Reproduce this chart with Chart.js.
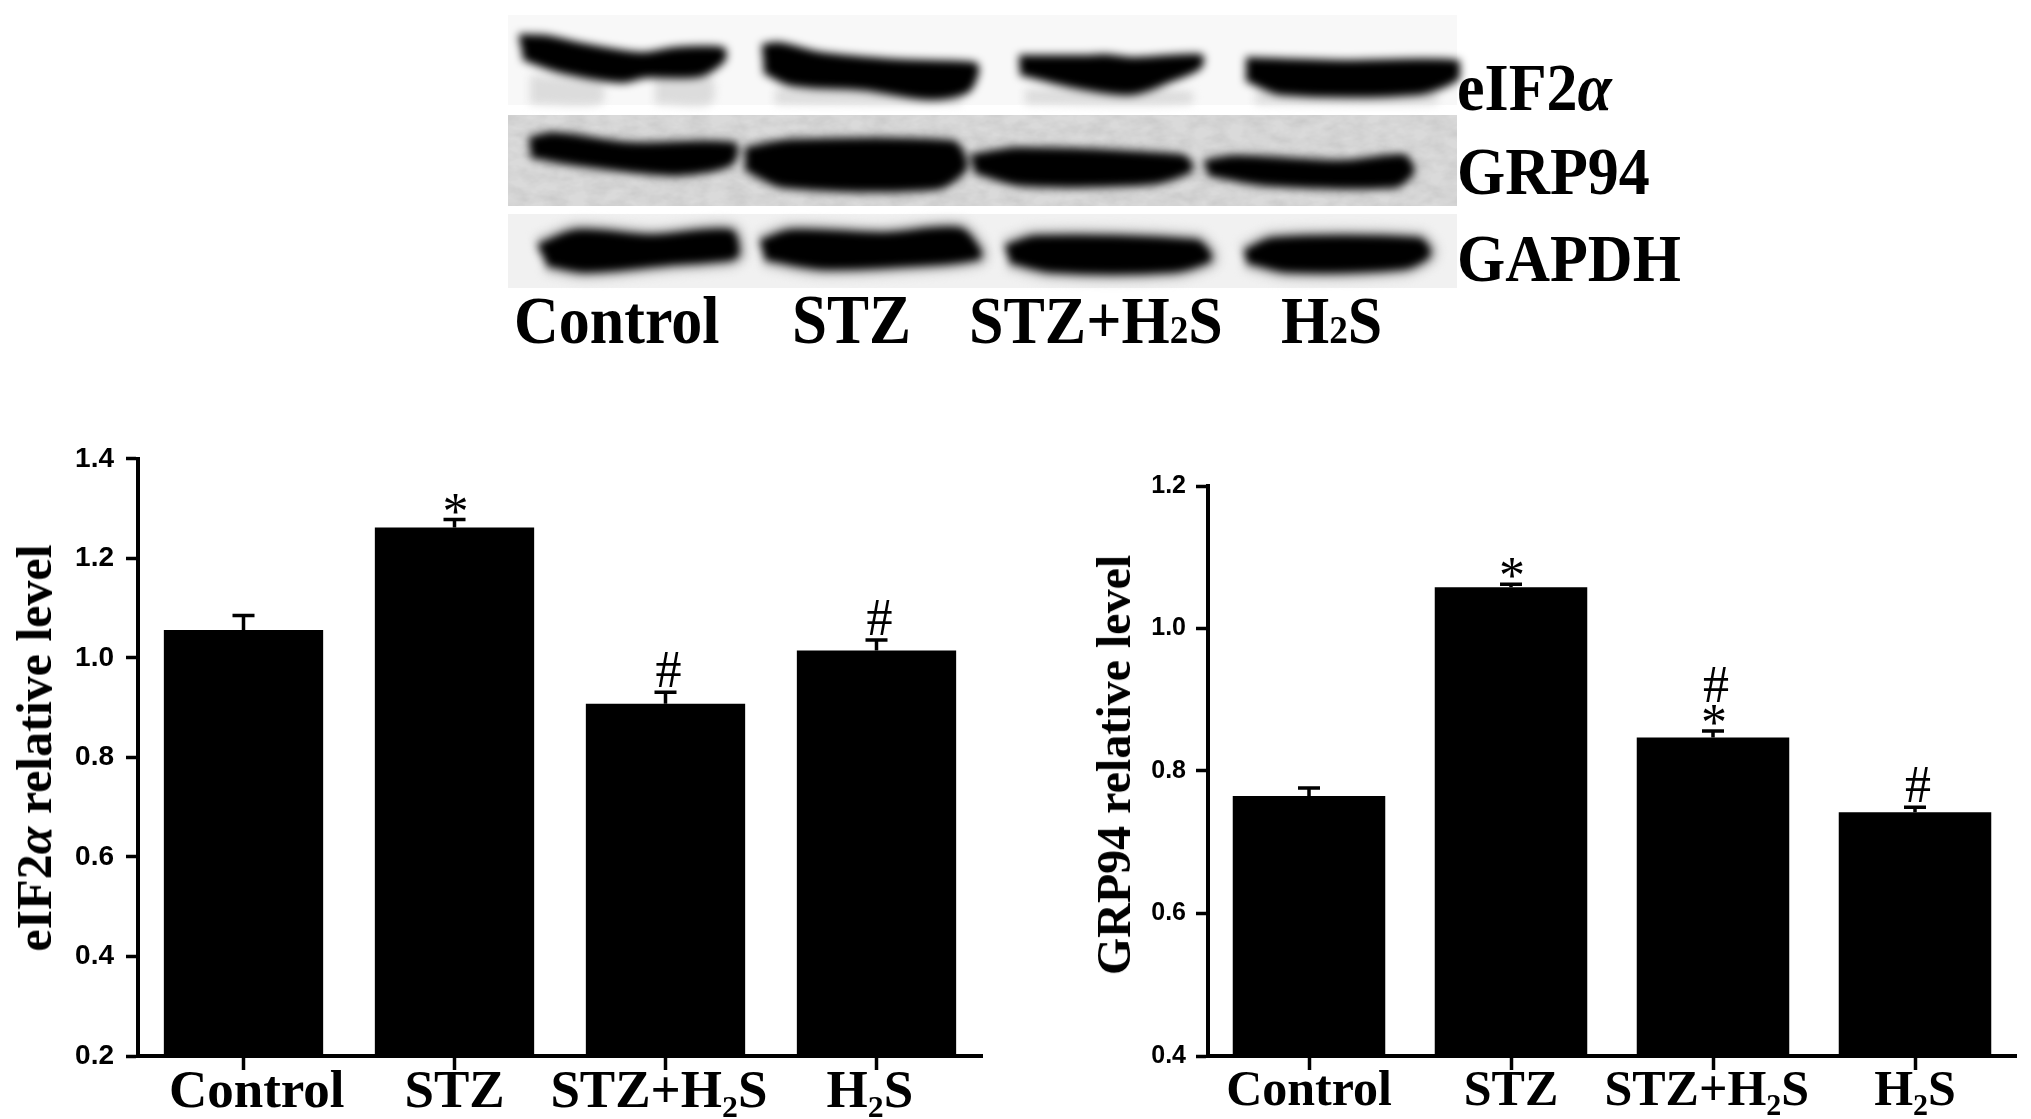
<!DOCTYPE html>
<html>
<head>
<meta charset="utf-8">
<title>eIF2α and GRP94</title>
<script src="https://cdn.jsdelivr.net/npm/chart.js@4"></script>
<style>
    html, body { margin: 0; background: #fff; }
    body { position: relative; width: 2031px; height: 1119px; overflow: hidden; font-family: "Liberation Serif", serif; font-weight: bold; color: #000; }
    #page { position: absolute; left: 0; top: 0; width: 2031px; height: 1119px; filter: blur(0.6px); }
    canvas { position: absolute; }
    .panel { position: absolute; left: 508px; width: 949px; }
    .label { position: absolute; white-space: nowrap; line-height: 1; transform: translateY(-50%) scaleY(1.1); }
    .label span { font-size: 0.6em; }
    .ytitle { position: absolute; white-space: nowrap; line-height: 1; transform: translate(-50%, -50%) rotate(-90deg); }
</style>
</head>
<body>
<svg width="0" height="0" style="position:absolute">
    <filter id="grain" x="0" y="0" width="100%" height="100%">
        <feTurbulence type="fractalNoise" baseFrequency="0.05 0.09" numOctaves="3" seed="4"/>
        <feColorMatrix type="matrix" values="0 0 0 0 0.5  0 0 0 0 0.5  0 0 0 0 0.5  0.9 0 0 0 -0.27"/>
        <feComposite in2="SourceGraphic" operator="over"/>
    </filter>
</svg>
<div id="page">
<div class="panel" style="top:15px;height:90px;background:#f8f8f8"></div>
<div class="panel" style="top:115px;height:91px;background:#dadada;filter:url(#grain)"></div>
<div class="panel" style="top:214px;height:74px;background:#f1f1f1"></div>
<canvas id="blot" style="left:500px;top:0;filter:blur(4px)" width="960" height="300"></canvas>

<div class="label" style="left:1457px;top:87px;font-size:62px">eIF2<i>α</i></div>
<div class="label" style="left:1457px;top:171px;font-size:62px">GRP94</div>
<div class="label" style="left:1457px;top:258px;font-size:62px">GAPDH</div>
<div class="label" style="left:514px;top:320px;font-size:62px">Control</div>
<div class="label" style="left:792px;top:320px;font-size:63px">STZ</div>
<div class="label" style="left:969px;top:320px;font-size:62px">STZ+H<span>2</span>S</div>
<div class="label" style="left:1281px;top:320px;font-size:62px">H<span>2</span>S</div>

<canvas id="eif2aChart" style="left:0;top:430px" width="1000" height="689"></canvas>
<canvas id="grp94Chart" style="left:1080px;top:460px" width="951" height="659"></canvas>
<div class="ytitle" style="left:34px;top:748px;font-size:50px">eIF2<i>α</i> relative level</div>
<div class="ytitle" style="left:1114px;top:765px;font-size:48px">GRP94 relative level</div>
</div>

<script>
const categories = ['Control', 'STZ', 'STZ+H₂S', 'H₂S'];

const eif2aValues = [1.056, 1.262, 0.908, 1.015];
const eif2aErrors = [0.029, 0.016, 0.023, 0.021];
const eif2aMarks = [[], ['*'], ['#'], ['#']];

const grp94Values = [0.765, 1.058, 0.847, 0.742];
const grp94Errors = [0.011, 0.004, 0.009, 0.007];
const grp94Marks = [[], ['*'], ['*', '#'], ['#']];

// blot bands, outline of each band in blot units (x along the membrane, y down it)
const eif2aBands = [
    [[19, 37], [46, 38], [77, 45], [122, 53], [145, 55], [176, 50], [222, 50], [222, 60], [199, 74], [145, 75], [122, 80], [61, 70], [23, 57]],
    [[262, 47], [279, 45], [321, 55], [398, 62], [474, 65], [476, 72], [467, 90], [429, 97], [367, 88], [291, 83], [264, 70]],
    [[519, 58], [589, 58], [605, 57], [635, 60], [700, 57], [698, 67], [673, 78], [631, 92], [574, 85], [520, 72]],
    [[746, 60], [842, 63], [957, 63], [957, 77], [918, 92], [781, 92], [746, 78]]
];
const eif2aSmudges = [
    [[30, 76], [100, 84], [100, 103], [30, 103]],
    [[155, 78], [210, 78], [210, 103], [155, 103]],
    [[275, 90], [460, 98], [460, 103], [275, 103]],
    [[525, 90], [690, 92], [690, 103], [525, 103]],
    [[755, 94], [935, 94], [935, 103], [755, 103]]
];
const grp94Bands = [
    [[29, 140], [54, 135], [130, 145], [233, 145], [230, 163], [176, 173], [77, 163], [31, 155]],
    [[245, 150], [291, 142], [452, 143], [463, 157], [463, 170], [436, 187], [283, 185], [245, 167]],
    [[471, 157], [520, 150], [681, 157], [689, 163], [689, 170], [650, 182], [520, 183], [474, 170]],
    [[704, 163], [735, 158], [842, 163], [903, 157], [911, 167], [911, 173], [895, 185], [765, 183], [708, 173]]
];
const gapdhBands = [
    [[38, 247], [77, 232], [153, 237], [230, 232], [237, 253], [230, 258], [168, 263], [84, 270], [46, 263]],
    [[260, 243], [291, 232], [383, 235], [459, 230], [478, 250], [478, 257], [429, 263], [321, 267], [264, 257]],
    [[505, 248], [536, 238], [696, 242], [708, 253], [708, 260], [673, 270], [551, 270], [509, 260]],
    [[744, 253], [773, 240], [918, 240], [928, 250], [926, 257], [903, 267], [788, 270], [746, 260]]
];

Chart.defaults.animation = false;
Chart.defaults.responsive = false;

function bandDataset(points, color, width) {
    return {
        data: points.map(p => ({x: p[0], y: p[1]})),
        showLine: true,
        fill: 'shape',
        tension: 0.3,
        borderColor: color,
        backgroundColor: color,
        borderWidth: width,
        pointRadius: 0
    };
}

new Chart(document.getElementById('blot'), {
    type: 'scatter',
    data: {
        // first dataset ends up on top
        datasets: [
            ...eif2aBands.map(p => bandDataset(p, '#000', 6)),
            ...grp94Bands.map(p => bandDataset(p, '#000', 6)),
            ...gapdhBands.map(p => bandDataset(p, '#000', 6)),
            ...gapdhBands.map(p => bandDataset(p, '#cfcfcf', 22)),
            ...eif2aSmudges.map(p => bandDataset(p, '#dcdcdc', 2))
        ]
    },
    options: {
        layout: {padding: 0},
        plugins: {legend: {display: false}, tooltip: {enabled: false}},
        scales: {
            x: {type: 'linear', display: false, min: 0, max: 960},
            y: {type: 'linear', display: false, min: 0, max: 300, reverse: true}
        }
    }
});

// error bars and significance marks, placed from the chart's own scales
const annotations = {
    id: 'annotations',
    afterDatasetsDraw(chart, args, opts) {
        const {ctx, scales: {x, y}} = chart;
        ctx.save();
        ctx.strokeStyle = '#000';
        ctx.fillStyle = '#000';
        ctx.textAlign = 'center';
        ctx.font = 'normal ' + opts.markSize + 'px "Liberation Serif"';
        opts.values.forEach((v, i) => {
            const px = x.getPixelForValue(i);
            const top = y.getPixelForValue(v + opts.errors[i]);
            ctx.lineWidth = 3.5;
            ctx.beginPath();
            ctx.moveTo(px, y.getPixelForValue(v));
            ctx.lineTo(px, top);
            ctx.moveTo(px - 11, top);
            ctx.lineTo(px + 11, top);
            ctx.stroke();
            let cursor = top;
            opts.marks[i].forEach(m => {
                if (m === '*') {
                    ctx.fillText(m, px + 1, cursor + 9);
                    cursor -= 24;
                } else {
                    ctx.fillText(m, px + 3, cursor - 5);
                    cursor -= 40;
                }
            });
        });
        ctx.restore();
    }
};

function drawBars(id, values, errors, marks, cfg) {
    return new Chart(document.getElementById(id), {
        type: 'bar',
        data: {
            labels: categories,
            datasets: [{data: values, backgroundColor: '#000', barPercentage: 0.755, categoryPercentage: 1}]
        },
        plugins: [annotations],
        options: {
            layout: {padding: {top: cfg.top, right: cfg.right}},
            plugins: {
                legend: {display: false},
                tooltip: {enabled: false},
                annotations: {values, errors, marks, markSize: 52}
            },
            scales: {
                x: {
                    afterFit: s => { s.height = 63; },
                    border: {color: '#000', width: 4},
                    grid: {offset: false, drawOnChartArea: false, tickLength: 14, tickWidth: 3.5, tickColor: '#000'},
                    ticks: {
                        color: '#000',
                        padding: -8,
                        autoSkip: false,
                        maxRotation: 0,
                        font: {family: '"Liberation Serif"', weight: 'bold', size: cfg.xSize},
                        // the hand-set labels sit a little off their ticks
                        callback: (v, i) => ' '.repeat(cfg.before[i]) + categories[i] + ' '.repeat(cfg.after[i])
                    }
                },
                y: {
                    min: cfg.min,
                    max: cfg.max,
                    afterFit: s => { s.width = cfg.left; },
                    border: {color: '#000', width: 4},
                    grid: {drawOnChartArea: false, tickLength: 12, tickWidth: 3.5, tickColor: '#000'},
                    ticks: {
                        stepSize: 0.2,
                        color: '#000',
                        padding: cfg.yPad,
                        font: {family: '"Liberation Sans"', weight: 'bold', size: cfg.ySize},
                        callback: v => v.toFixed(1)
                    }
                }
            }
        }
    });
}

drawBars('eif2aChart', eif2aValues, eif2aErrors, eif2aMarks, {
    min: 0.2, max: 1.4, left: 138, right: 18, top: 28, xSize: 53, ySize: 28, yPad: 12,
    before: [2, 0, 0, 0], after: [0, 0, 1, 1]
});
drawBars('grp94Chart', grp94Values, grp94Errors, grp94Marks, {
    min: 0.4, max: 1.2, left: 128, right: 15, top: 26, xSize: 50, ySize: 25, yPad: 10,
    before: [0, 0, 0, 0], after: [0, 0, 1, 0]
});
</script>
</body>
</html>
